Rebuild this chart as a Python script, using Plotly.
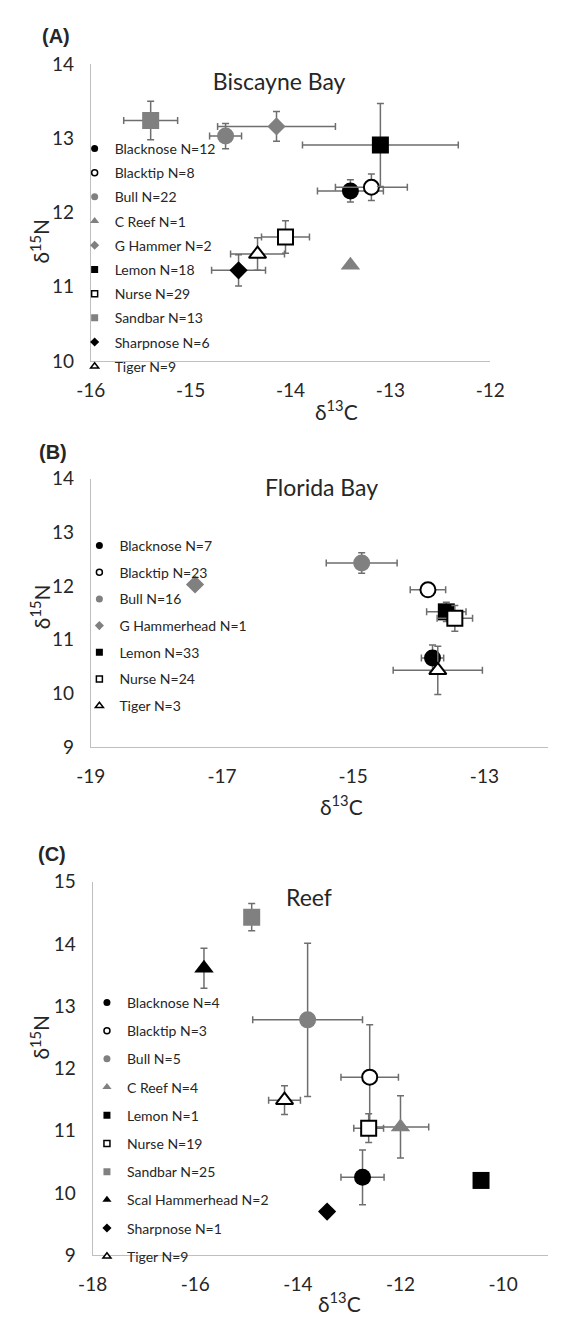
import plotly.graph_objects as go

# ---------------- data ----------------
# Panel A: Biscayne Bay
species_a = ["Blacknose", "Blacktip", "Bull", "C Reef", "G Hammer", "Lemon",
             "Nurse", "Sandbar", "Sharpnose", "Tiger"]
n_a = [12, 8, 22, 1, 2, 18, 29, 13, 6, 9]
d13c_a = [-13.40, -13.19, -14.65, -13.40, -14.14, -13.10, -14.05, -15.40, -14.52, -14.33]
d15n_a = [12.29, 12.34, 13.03, 11.29, 13.16, 12.91, 11.67, 13.24, 11.22, 11.44]
xerr_a = [0.33, 0.36, 0.16, 0.0, 0.59, 0.78, 0.24, 0.27, 0.27, 0.27]
yerr_a = [0.15, 0.18, 0.17, 0.0, 0.20, 0.56, 0.22, 0.26, 0.21, 0.22]

# Panel B: Florida Bay
species_b = ["Blacknose", "Blacktip", "Bull", "G Hammerhead", "Lemon", "Nurse", "Tiger"]
n_b = [7, 23, 16, 1, 33, 24, 3]
d13c_b = [-13.79, -13.86, -14.87, -17.41, -13.58, -13.45, -13.71]
d15n_b = [10.66, 11.93, 12.43, 12.03, 11.52, 11.40, 10.43]
xerr_b = [0.17, 0.27, 0.54, 0.0, 0.30, 0.27, 0.68]
yerr_b = [0.24, 0.06, 0.19, 0.0, 0.18, 0.24, 0.45]

# Panel C: Reef
species_c = ["Blacknose", "Blacktip", "Bull", "C Reef", "Lemon", "Nurse", "Sandbar",
             "Scal Hammerhead", "Sharpnose", "Tiger"]
n_c = [4, 3, 5, 4, 1, 19, 25, 2, 1, 9]
d13c_c = [-12.74, -12.60, -13.81, -12.00, -10.43, -12.62, -14.90, -15.83, -13.43, -14.26]
d15n_c = [10.25, 11.86, 12.78, 11.06, 10.20, 11.04, 14.43, 13.61, 9.70, 11.49]
xerr_c = [0.42, 0.56, 1.07, 0.55, 0.0, 0.29, 0.0, 0.0, 0.0, 0.31]
yerr_c = [0.44, 0.84, 1.23, 0.50, 0.0, 0.23, 0.22, 0.32, 0.0, 0.23]

# tick labels
xticks_a = [-16, -15, -14, -13, -12]
xticks_b = [-19, -17, -15, -13]
xticks_c = [-18, -16, -14, -12, -10]
yticks_a = [10, 11, 12, 13, 14]
yticks_b = [9, 10, 11, 12, 13, 14]
yticks_c = [9, 10, 11, 12, 13, 14, 15]

# ---------------- styles ----------------
W, H = 563, 1330
GRAY = "#808080"
FONT = "Lato, 'Open Sans', 'DejaVu Sans', sans-serif"
TXT = "#262626"

STYLE = {
    "Blacknose": ("circle", "black", "black"),
    "Blacktip": ("circle", "white", "black"),
    "Bull": ("circle", GRAY, GRAY),
    "C Reef": ("triangle-up", GRAY, GRAY),
    "G Hammer": ("diamond", GRAY, GRAY),
    "G Hammerhead": ("diamond", GRAY, GRAY),
    "Lemon": ("square", "black", "black"),
    "Nurse": ("square", "white", "black"),
    "Sandbar": ("square", GRAY, GRAY),
    "Scal Hammerhead": ("triangle-up", "black", "black"),
    "Sharpnose": ("diamond", "black", "black"),
    "Tiger": ("triangle-up", "white", "black"),
}
SIZE = {"circle": 17, "square": 17, "diamond": 14, "triangle-up": 17}
LSIZE = {"circle": 7, "square": 7, "diamond": 7, "triangle-up": 8}
ERR = "#6e6e6e"

fig = go.Figure()

panels = [
    (species_a, n_a, d13c_a, d15n_a, xerr_a, yerr_a, "x", "y", "legend"),
    (species_b, n_b, d13c_b, d15n_b, xerr_b, yerr_b, "x2", "y2", "legend2"),
    (species_c, n_c, d13c_c, d15n_c, xerr_c, yerr_c, "x3", "y3", "legend3"),
]

for pi, (sp, nn, xs, ys, xe, ye, xa, ya, lg) in enumerate(panels):
    for i, s in enumerate(sp):
        sym, fill, edge = STYLE[s]
        is_open = fill == "white"
        size = SIZE[sym] - (2 if is_open else 0)
        fig.add_trace(go.Scatter(
            x=[xs[i]], y=[ys[i]], mode="markers", xaxis=xa, yaxis=ya,
            marker=dict(symbol=sym, size=size, color=fill,
                        line=dict(color=edge, width=2 if is_open else 0)),
            error_x=dict(type="data", array=[xe[i]], color=ERR, thickness=1.5, width=3.5,
                         visible=xe[i] > 0),
            error_y=dict(type="data", array=[ye[i]], color=ERR, thickness=1.5, width=3.5,
                         visible=ye[i] > 0),
            showlegend=False, hoverinfo="skip",
        ))
    for i, s in enumerate(sp):
        sym, fill, edge = STYLE[s]
        is_open = fill == "white"
        fig.add_trace(go.Scatter(
            x=[None], y=[None], mode="markers", xaxis=xa, yaxis=ya,
            marker=dict(symbol=sym, size=LSIZE[sym] - (1 if is_open else 0), color=fill,
                        line=dict(color=edge, width=1.5 if is_open else 0)),
            name=f"{s} N={nn[i]}", legend=lg, legendgroup=f"p{pi}_{i}",
            showlegend=True,
        ))

axis_common = dict(showline=True, linecolor="#bfbfbf", linewidth=1, showgrid=False,
                   zeroline=False, ticks="", tickfont=dict(family=FONT, size=19, color=TXT))


def ticktexts(vals):
    return [str(v) for v in vals]


fig.update_layout(
    width=W, height=H, margin=dict(l=0, r=0, t=0, b=0),
    paper_bgcolor="white", plot_bgcolor="white",
    font=dict(family=FONT, color=TXT, size=14),
    title=dict(text="Biscayne Bay", x=279 / W, y=1 - 71 / H, xref="paper", yref="paper",
               xanchor="center", yanchor="middle",
               font=dict(family=FONT, size=23, color=TXT)),
    xaxis=dict(axis_common, domain=[80 / W, 502 / W], range=[-16, -12], anchor="y",
               tickvals=xticks_a, ticktext=ticktexts(xticks_a), ticklabelstandoff=12),
    yaxis=dict(axis_common, domain=[1 - 355 / H, 1 - 53 / H], range=[10, 14], anchor="x",
               tickvals=yticks_a, ticktext=ticktexts(yticks_a), ticklabelstandoff=12),
    xaxis2=dict(axis_common, domain=[80 / W, 1], range=[-19, -12.03], anchor="y2",
                tickvals=xticks_b, ticktext=ticktexts(xticks_b), ticklabelstandoff=12),
    yaxis2=dict(axis_common, domain=[1 - 748 / H, 1 - 475 / H], range=[9, 14], anchor="x2",
                tickvals=yticks_b, ticktext=ticktexts(yticks_b), ticklabelstandoff=12),
    xaxis3=dict(axis_common, domain=[82 / W, 1], range=[-18, -9.125], anchor="y3",
                tickvals=xticks_c, ticktext=ticktexts(xticks_c), ticklabelstandoff=12),
    yaxis3=dict(axis_common, domain=[1 - 1265 / H, 1 - 885 / H], range=[9, 15], anchor="x3",
                tickvals=yticks_c, ticktext=ticktexts(yticks_c), ticklabelstandoff=12),
)

leg_common = dict(xanchor="left", yanchor="top", bgcolor="rgba(0,0,0,0)",
                  font=dict(family=FONT, size=14, color=TXT), traceorder="grouped")
fig.update_layout(
    legend=dict(leg_common, x=63 / W, y=1 - 123 / H, tracegroupgap=3),
    legend2=dict(leg_common, x=68 / W, y=1 - 527 / H, tracegroupgap=5.5),
    legend3=dict(leg_common, x=76 / W, y=1 - 992 / H, tracegroupgap=7),
)


def ann(text, x, y, size, bold=False, angle=0, family=FONT):
    fig.add_annotation(text=f"<b>{text}</b>" if bold else text, x=x / W, y=1 - y / H,
                       xref="paper", yref="paper", showarrow=False, textangle=angle,
                       xanchor="center", yanchor="middle",
                       font=dict(family=family, size=size, color=TXT))


PL = "Liberation Sans, Arial, sans-serif"
ann("(A)", 43, 24, 20, bold=True, family=PL)
ann("(B)", 40, 448, 20, bold=True, family=PL)
ann("(C)", 39, 857, 20, bold=True, family=PL)
ann("Florida Bay", 324, 483, 23)
ann("Reef", 311, 901, 23)
ann("δ<sup>15</sup>N", 26, 233, 21, angle=-90)
ann("δ<sup>15</sup>N", 26, 605, 21, angle=-90)
ann("δ<sup>15</sup>N", 26, 1043, 21, angle=-90)
ann("δ<sup>13</sup>C", 340, 405, 21)
ann("δ<sup>13</sup>C", 345, 807, 21)
ann("δ<sup>13</sup>C", 343, 1313, 21)

fig.write_html("out.html", config={"displayModeBar": False},
               post_script="document.body.style.margin='0px';document.body.style.overflow='hidden';")
